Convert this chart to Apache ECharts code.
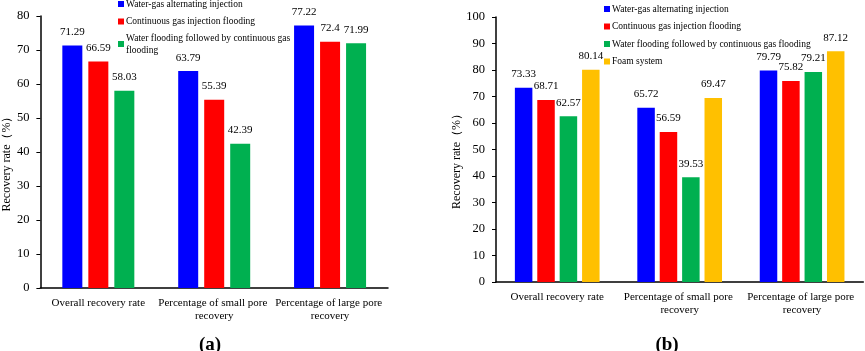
<!DOCTYPE html>
<html>
<head>
<meta charset="utf-8">
<script src="https://cdn.jsdelivr.net/npm/echarts@6/dist/echarts.min.js"></script>
<style>
	html, body { margin: 0; padding: 0; background: #fff; }
	#chart { width: 865px; height: 351px; }
</style>
</head>
<body>
<div id="chart"></div>
<script>
// data
const categories = ['Overall recovery rate', 'Percentage of small pore recovery', 'Percentage of large pore recovery'];
const seriesNames = [
	'Water-gas alternating injection',
	'Continuous gas injection flooding',
	'Water flooding followed by continuous gas flooding',
	'Foam system',
];
const colors = ['#0000ff', '#ff0000', '#00b050', '#ffc000'];
// panel (a)
const wagA = [71.29, 63.79, 77.22];
const cgiA = [66.59, 55.39, 72.4];
const wfgA = [58.03, 42.39, 71.99];
// panel (b)
const wagB = [73.33, 65.72, 79.79];
const cgiB = [68.71, 56.59, 75.82];
const wfgB = [62.57, 39.53, 79.21];
const foamB = [80.14, 69.47, 87.12];

const font = "'Times New Roman', 'Liberation Serif', serif";

const myChart = echarts.init(document.getElementById('chart'));

function xAxis(gridIndex, width) {
	return {
		type: 'category',
		gridIndex: gridIndex,
		data: categories,
		axisLine: { lineStyle: { color: '#000', width: 1.5 } },
		axisTick: { show: false },
		axisLabel: {
			color: '#000',
			fontFamily: font,
			fontSize: 11,
			lineHeight: 13,
			margin: 9,
			width: width,
			overflow: 'break',
			interval: 0,
		},
	};
}

function yAxis(gridIndex, max, nameGap) {
	return {
		type: 'value',
		gridIndex: gridIndex,
		min: 0,
		max: max,
		interval: 10,
		name: 'Recovery rate（%）',
		nameLocation: 'middle',
		nameGap: nameGap,
		// right padding pushes the rotated name a little lower, as in the figure
		nameTextStyle: { color: '#000', fontFamily: font, fontSize: 12, padding: [0, 18, 0, 0] },
		axisLine: { show: true, lineStyle: { color: '#000', width: 1.5 } },
		axisTick: { show: true, inside: false, length: 4, lineStyle: { color: '#000' } },
		axisLabel: { color: '#000', fontFamily: font, fontSize: 12.5, margin: 11 },
		splitLine: { show: false },
	};
}

function bar(i, data, axisIndex, width, gap) {
	return {
		name: seriesNames[i],
		type: 'bar',
		xAxisIndex: axisIndex,
		yAxisIndex: axisIndex,
		barWidth: width,
		barGap: gap,
		itemStyle: { color: colors[i] },
		label: {
			show: true,
			position: 'top',
			distance: 8,
			color: '#000',
			fontFamily: font,
			fontSize: 11,
		},
		data: data,
	};
}

const legendText = { color: '#000', fontFamily: font, fontSize: 9.5, lineHeight: 12, padding: [0, 0, 0, -3] };

const option = {
	animation: false,
	title: [
		{ text: '(a)', left: 205, top: 331, textAlign: 'center',
			textStyle: { fontFamily: font, fontSize: 19, fontWeight: 'bold', color: '#000' } },
		{ text: '(b)', left: 662, top: 331, textAlign: 'center',
			textStyle: { fontFamily: font, fontSize: 19, fontWeight: 'bold', color: '#000' } },
	],
	legend: [
		{
			left: 118,
			top: -2,
			padding: 0,
			orient: 'vertical',
			itemWidth: 6,
			itemHeight: 6,
			itemGap: 5.5,
			icon: 'rect',
			textStyle: legendText,
			data: [
				seriesNames[0],
				seriesNames[1],
				{ name: seriesNames[2], textStyle: { padding: [0, 0, -12, -3] } },
			],
			formatter: (name) => name === seriesNames[2] ? 'Water flooding followed by continuous gas\nflooding' : name,
		},
		{
			left: 604,
			top: 3,
			padding: 0,
			orient: 'vertical',
			itemWidth: 6,
			itemHeight: 6,
			itemGap: 5.5,
			icon: 'rect',
			textStyle: legendText,
			data: seriesNames,
		},
	],
	grid: [
		{ left: 39, top: 16, right: 477, bottom: 63 },
		{ left: 496, top: 17, right: 1, bottom: 69 },
	],
	xAxis: [xAxis(0, 116), xAxis(1, 120)],
	yAxis: [yAxis(0, 80, 24), yAxis(1, 100, 22)],
	series: [
		bar(0, wagA, 0, 20, '30%'),
		bar(1, cgiA, 0, 20, '30%'),
		bar(2, wfgA, 0, 20, '30%'),
		bar(0, wagB, 1, 17.5, '28%'),
		bar(1, cgiB, 1, 17.5, '28%'),
		bar(2, wfgB, 1, 17.5, '28%'),
		bar(3, foamB, 1, 17.5, '28%'),
	],
};

myChart.setOption(option);
</script>
</body>
</html>
